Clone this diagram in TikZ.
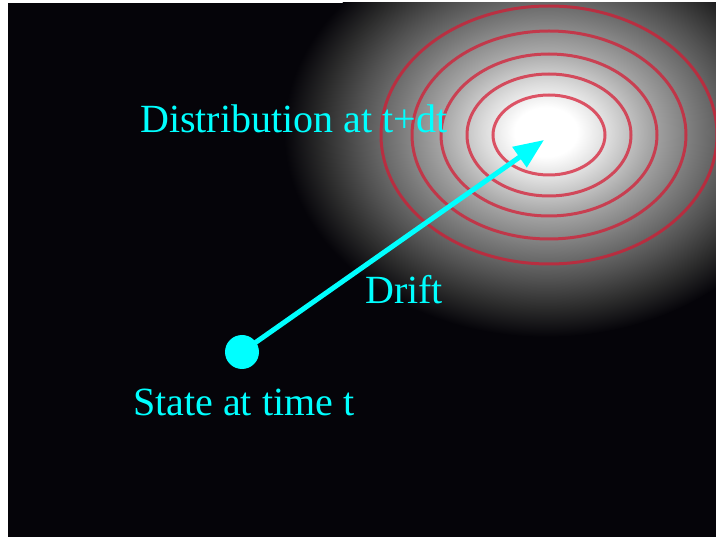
\documentclass[tikz,border=0pt]{standalone}
\usepackage{fontspec}
\setmainfont{Liberation Serif}
\usetikzlibrary{arrows.meta}
\definecolor{bg}{RGB}{5,4,9}
\definecolor{cyanish}{RGB}{0,255,255}
\definecolor{ringred}{RGB}{215,25,50}
% TikZ fits the middle 50bp square of the shading to the path's box: edge = 25bp
\pgfdeclareradialshading{glow}{\pgfpoint{0bp}{0bp}}{%
  color(0bp)=(white);
  color(3bp)=(white);
  color(6bp)=(black!14);
  color(10bp)=(black!35);
  color(14bp)=(black!52);
  color(18bp)=(black!68);
  color(21.5bp)=(black!83);
  color(25bp)=(bg);
  color(50bp)=(bg)}
\tikzset{
  lbl/.style={text=cyanish, font=\fontsize{40}{44}\selectfont, anchor=base west, inner sep=0pt},
  ring/.style={draw=ringred, draw opacity=0.72, line width=3pt},
  drift/.style={draw=cyanish, line width=5pt, -{Triangle[length=30pt,width=24pt]}},
  statedot/.style={circle, fill=cyanish, minimum size=34pt, inner sep=0pt}
}
\begin{document}
\begin{tikzpicture}[x=1pt,y=-1pt]
\useasboundingbox (0,0) rectangle (716,537);
\fill[white] (0,0) rectangle (716,537);
\fill[bg] (8,3) rectangle (716,537);
\begin{scope}
  \clip (8,3) rectangle (716,537);
  \shade[shading=glow] (546,132) ellipse [x radius=262, y radius=205];
  \foreach \rx/\ry in {56/40, 82/61, 108/81, 137/104, 168/129}
    \draw[ring] (549,135) ellipse [x radius=\rx, y radius=\ry];
\end{scope}
\coordinate (tip) at (544,140);
\node[statedot] (dot) at (242,352) {};
\draw[drift] (dot.center) -- (tip);
\node[lbl] (dist) at (140,133) {Distribution at t+dt};
\node[lbl] (driftlbl) at (365,304) {Drift};
\node[lbl] (state) at (133,416) {State at time t};
\end{tikzpicture}
\end{document}
